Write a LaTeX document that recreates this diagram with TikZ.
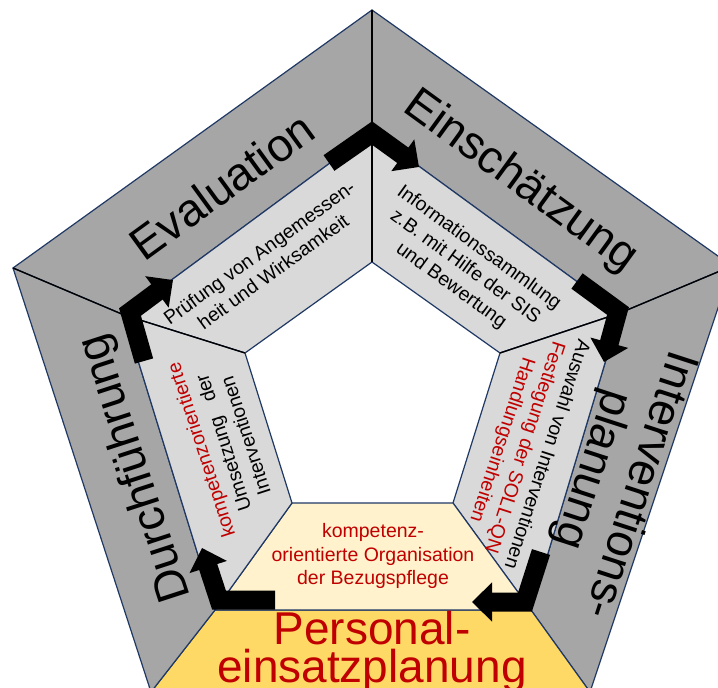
\documentclass[tikz,border=0pt]{standalone}
\usepackage{fontspec}
\setmainfont{Liberation Sans}
\usetikzlibrary{arrows.meta}
\definecolor{ringgray}{RGB}{166,166,166}
\definecolor{innergray}{RGB}{217,217,217}
\definecolor{gold}{RGB}{255,217,102}
\definecolor{paleyellow}{RGB}{255,242,204}
\definecolor{navy}{RGB}{31,56,100}
\definecolor{darkred}{RGB}{192,0,0}
\begin{document}
\begin{tikzpicture}[x=1pt,y=-1pt,
  seg/.style={draw=navy,line width=1.2pt,line join=round},
  divider/.style={draw=black,line width=1.3pt},
  flow/.style={line width=19pt,line join=miter,line cap=butt,-{Triangle[width=38pt,length=20pt]}},
  biglabel/.style={font=\fontsize{46}{50}\selectfont,align=center,inner sep=0pt},
  smalllabel/.style={font=\fontsize{19.5}{23.5}\selectfont,align=center,inner sep=0pt}]
\useasboundingbox (0,0) rectangle (718,688);
\clip (0,0) rectangle (718,688);
\fill[white] (0,0) rectangle (718,688);
% outer pentagon
\coordinate (O1) at (372,10);
\coordinate (O2) at (732,266);
\coordinate (O3) at (590,692);
\coordinate (O4) at (151,692);
\coordinate (O5) at (13,268);
% middle pentagon
\coordinate (M1) at (372,132);
\coordinate (M2) at (620,313);
\coordinate (M3) at (531,610);
\coordinate (M4) at (215,610);
\coordinate (M5) at (124,315);
% inner pentagon
\coordinate (I1) at (372,262);
\coordinate (I2) at (500,353);
\coordinate (I3) at (453,503);
\coordinate (I4) at (292,503);
\coordinate (I5) at (245,353);
% outer ring
\filldraw[seg,fill=ringgray] (O5) -- (O1) -- (M1) -- (M5) -- cycle;
\filldraw[seg,fill=ringgray] (O1) -- (O2) -- (M2) -- (M1) -- cycle;
\filldraw[seg,fill=ringgray] (O2) -- (O3) -- (M3) -- (M2) -- cycle;
\filldraw[seg,fill=gold] (O3) -- (O4) -- (M4) -- (M3) -- cycle;
\filldraw[seg,fill=ringgray] (O4) -- (O5) -- (M5) -- (M4) -- cycle;
% inner ring
\filldraw[seg,fill=innergray] (M5) -- (M1) -- (I1) -- (I5) -- cycle;
\filldraw[seg,fill=innergray] (M1) -- (M2) -- (I2) -- (I1) -- cycle;
\filldraw[seg,fill=innergray] (M2) -- (M3) -- (I3) -- (I2) -- cycle;
\filldraw[seg,fill=paleyellow] (M3) -- (M4) -- (I4) -- (I3) -- cycle;
\filldraw[seg,fill=innergray] (M4) -- (M5) -- (I5) -- (I4) -- cycle;
% dividers
\draw[divider] (O1) -- (M1) -- (I1);
\draw[divider] (O2) -- (M2) -- (I2);
\draw[divider] (O5) -- (M5) -- (I5);
% flow arrows
\coordinate (A0) at (329,163); \coordinate (A1) at (372,133); \coordinate (A2) at (419,167);
\coordinate (B0) at (577,281); \coordinate (B1) at (618,311); \coordinate (B2) at (604,362);
\coordinate (C0) at (541,552); \coordinate (C1) at (525,602); \coordinate (C2) at (472,602);
\coordinate (D0) at (275,600); \coordinate (D1) at (219,600); \coordinate (D2) at (202,548);
\coordinate (E0) at (144,361); \coordinate (E1) at (130,312); \coordinate (E2) at (173,280);
\draw[flow] (A0) -- (A1) -- (A2);
\draw[flow] (B0) -- (B1) -- (B2);
\draw[flow] (C0) -- (C1) -- (C2);
\draw[flow] (D0) -- (D1) -- (D2);
\draw[flow] (E0) -- (E1) -- (E2);
% outer labels
\node[biglabel,rotate=36] (eval) at (222,186) {Evaluation};
\node[biglabel,rotate=-36] (einsch) at (520,182) {Einschätzung};
\node[biglabel,rotate=-108] (interv) at (615,477) {Interventions-\\planung};
\node[biglabel,rotate=108] (durch) at (136,468) {Durchführung};
\node[font=\fontsize{46}{38}\selectfont,align=center,inner sep=0pt,text=darkred] (pers) at (372,652) {Personal-\\einsatzplanung};
% inner labels
\node[smalllabel,rotate=36] (pruef) at (266,262) {Prüfung von Angemessen-\\heit und Wirksamkeit};
\node[smalllabel,rotate=-36] (info) at (465,267) {Informationssammlung\\z.B. mit Hilfe der SIS\\und Bewertung};
\node[smalllabel,rotate=-108] (ausw) at (524,447) {Auswahl von Interventionen\\\textcolor{darkred}{Festlegung der SOLL-QN}\\\textcolor{darkred}{Handlungseinheiten}};
\node[smalllabel,rotate=108] (umset) at (223,443) {\textcolor{darkred}{kompetenzorientierte}\\Umsetzung\hspace{0.8em}der\\Interventionen};
\node[smalllabel,text=darkred] (orga) at (373,556) {kompetenz-\\orientierte Organisation\\der Bezugspflege};
\end{tikzpicture}
\end{document}
